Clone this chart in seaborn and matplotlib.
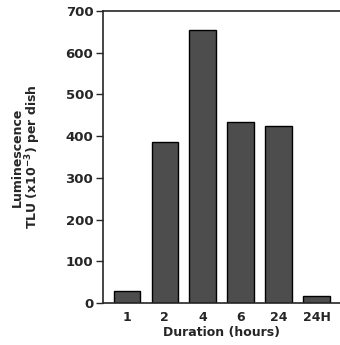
import matplotlib
matplotlib.use("Agg")
import matplotlib.pyplot as plt
import seaborn as sns
import pandas as pd

categories = ["1", "2", "4", "6", "24", "24H"]
values = [29, 387, 655, 435, 425, 17]
yticks = [0, 100, 200, 300, 400, 500, 600, 700]

sns.set_style("ticks")
plt.rcParams['font.family'] = ['DejaVu Sans']

df = pd.DataFrame({"Duration": categories, "Lum": values})

fig = plt.figure(figsize=(3.4, 3.45), dpi=100)
ax = fig.add_axes([0.303, 0.122, 0.697, 0.846])
sns.barplot(data=df, x="Duration", y="Lum", order=categories, color="#4d4d4d",
            saturation=1, width=0.7, edgecolor="black", linewidth=1, ax=ax)
ax.set_ylim(0, 700)
ax.set_xlim(-0.63, 5.62)
ax.set_yticks(yticks)
ax.set_yticklabels([str(t) for t in yticks], fontweight="bold", fontsize=9.5)
ax.set_xticks(range(len(categories)))
ax.set_xticklabels(categories, fontweight="bold", fontsize=9)
ax.tick_params(axis="x", length=0, pad=6)
ax.tick_params(axis="y", length=5, width=1, direction="out", pad=2)
for s in ["left", "bottom", "top"]:
    ax.spines[s].set_visible(True)
    ax.spines[s].set_linewidth(1.2)
ax.spines["right"].set_visible(False)
ax.set_xlabel("Duration (hours)", fontweight="bold", fontsize=9, labelpad=1)
ax.set_ylabel("Luminescence\nTLU (x10$^{\\mathbf{-3}}$) per dish", fontweight="bold",
              fontsize=9, labelpad=16, linespacing=1.0)
fig.savefig("out.png", dpi=100)
